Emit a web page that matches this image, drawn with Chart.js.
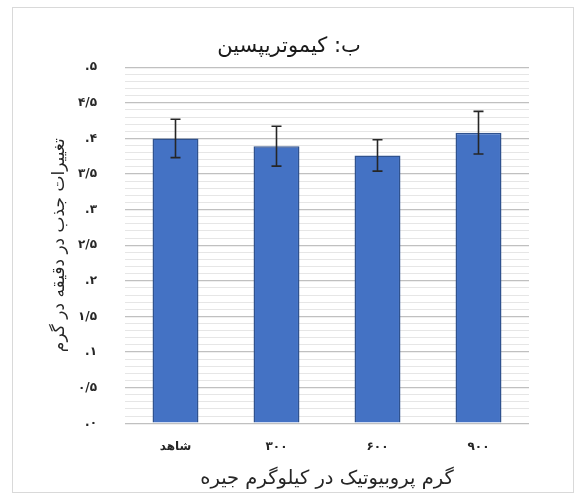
<!DOCTYPE html>
<html>
<head>
<meta charset="utf-8">
<script src="https://cdn.jsdelivr.net/npm/chart.js@4"></script>
<style>
  html, body { margin: 0; padding: 0; background: #fff; }
  #wrap { position: relative; width: 586px; height: 495px; }
  #frame { position: absolute; left: 12px; top: 7px; width: 562px; height: 486px; border: 1px solid #d9d9d9; box-sizing: border-box; pointer-events: none; }
  canvas { direction: rtl; }
</style>
</head>
<body>
<div id="wrap">
  <canvas id="c" dir="rtl"></canvas>
  <div id="frame"></div>
</div>
<script>
// chymotrypsin activity by probiotic dose
const categories  = ['شاهد', '۳۰۰', '۶۰۰', '۹۰۰'];
const means       = [4.00, 3.89, 3.76, 4.08];
const errors      = [0.27, 0.28, 0.22, 0.30];
const yTickLabels = ['۰.', '۰/۵', '۱.', '۱/۵', '۲.', '۲/۵', '۳.', '۳/۵', '۴.', '۴/۵', '۵.'];

const FONT   = 'DejaVu Sans';
const BLUE   = '#4472C4';
const EDGE   = '#2F528F';
const MAJOR  = '#c0c0c0';
const MINOR  = '#e6e6e6';
const INK    = '#262626';

// draws the +/- error whiskers from the y scale
const errorBars = {
  id: 'errorBars',
  afterDatasetsDraw(chart) {
    const { ctx, scales: { y } } = chart;
    const meta = chart.getDatasetMeta(0);
    ctx.save();
    ctx.strokeStyle = INK;
    ctx.lineWidth = 1.6;
    meta.data.forEach((bar, i) => {
      const top = y.getPixelForValue(means[i] + errors[i]);
      const bot = y.getPixelForValue(means[i] - errors[i]);
      ctx.beginPath();
      ctx.moveTo(bar.x, top); ctx.lineTo(bar.x, bot);
      ctx.moveTo(bar.x - 5, top); ctx.lineTo(bar.x + 5, top);
      ctx.moveTo(bar.x - 5, bot); ctx.lineTo(bar.x + 5, bot);
      ctx.stroke();
    });
    ctx.restore();
  },
};

const isMajor = v => Math.round(v * 10) % 5 === 0;

new Chart(document.getElementById('c'), {
  type: 'bar',
  data: {
    labels: categories,
    datasets: [{
      data:            means,
      backgroundColor: BLUE,
      borderColor:     EDGE,
      borderWidth:     1.5,
      categoryPercentage: 1,
      barPercentage:   0.455,
    }],
  },
  options: {
    responsive:          true,
    maintainAspectRatio: false,
    animation:           false,
    layout: { padding: { left: 49, right: 57, top: 24, bottom: 4 } },
    plugins: {
      legend:  { display: false },
      tooltip: { enabled: false },
      title: {
        display: true,
        text:    'ب: کیموتریپسین',
        color:   '#1a1a1a',
        font:    { family: FONT, size: 21, weight: 'normal' },
        padding: { top: 10, bottom: 8 },
      },
    },
    scales: {
      x: {
        afterFit: s => { s.paddingLeft = 0; s.paddingRight = 0; },
        grid:   { display: false },
        border: { display: false },
        ticks:  { color: INK, padding: 8, font: { family: FONT, size: 12, weight: 'bold' } },
        title: {
          display: true,
          text:    'گرم پروبیوتیک در کیلوگرم جیره',
          color:   INK,
          font:    { family: FONT, size: 19.5 },
          padding: { top: 6, bottom: 0 },
        },
      },
      y: {
        min: 0,
        max: 5,
        afterFit: s => { s.width = 76; },
        grid: {
          drawTicks: false,
          color:     c => isMajor(c.tick.value) ? MAJOR : MINOR,
          lineWidth: c => isMajor(c.tick.value) ? 1.3 : 1,
        },
        border: { display: false },
        ticks: {
          stepSize: 0.1,
          autoSkip: false,
          padding:  28,
          color:    INK,
          font:     { family: FONT, size: 12, weight: 'bold' },
          callback: v => isMajor(v) ? yTickLabels[Math.round(v * 2)] : '',
        },
        title: {
          display: true,
          text:    'تغییرات جذب در دقیقه در گرم',
          color:   INK,
          font:    { family: FONT, size: 17 },
          padding: { top: 0, bottom: 6 },
        },
      },
    },
  },
  plugins: [errorBars],
});
</script>
</body>
</html>
